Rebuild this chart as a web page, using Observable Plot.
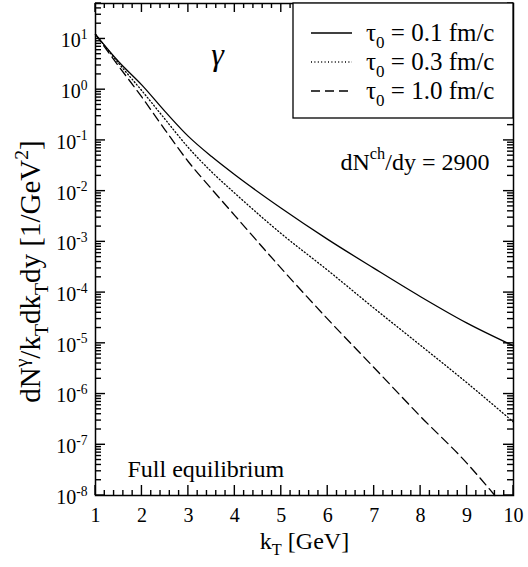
<!DOCTYPE html>
<html><head><meta charset="utf-8">
<script src="https://cdn.jsdelivr.net/npm/d3@7"></script>
<script src="https://cdn.jsdelivr.net/npm/@observablehq/plot@0.6"></script>
<style>
body{margin:0;background:#fff}
#chart{position:relative;width:528px;height:567px}
#chart svg text{font-family:"Liberation Serif",serif !important}
</style></head><body><div id="chart"></div>
<script>
// ---- data ----
const kT    = [1, 1.5, 2, 2.5, 3, 3.5, 4, 5, 6, 7, 8, 9, 10];
const tau01 = [12.3, 3.55, 1.23, 0.37, 0.12, 0.048, 0.021, 0.0046, 0.00112, 3.0e-4, 8.3e-5, 2.5e-5, 8.9e-6];
const tau03 = [12.3, 3.3, 0.95, 0.26, 0.072, 0.024, 0.0091, 0.00145, 2.75e-4, 4.9e-5, 9.1e-6, 1.66e-6, 2.8e-7];
const kT10  = [1, 1.5, 2, 2.5, 3, 3.5, 4, 5, 6, 7, 8, 9, 9.6];
const tau10 = [12.3, 2.9, 0.71, 0.16, 0.038, 0.011, 0.0033, 3.0e-4, 3.0e-5, 3.3e-6, 3.6e-7, 4.3e-8, 1.0e-8];
const seriesNames = ["τ_{0} = 0.1 fm/c", "τ_{0} = 0.3 fm/c", "τ_{0} = 1.0 fm/c"];
const seriesX = [kT, kT, kT10];
const seriesValues = [tau01, tau03, tau10];
const xTicks = [1, 2, 3, 4, 5, 6, 7, 8, 9, 10];
const xTickLabels = ["1", "2", "3", "4", "5", "6", "7", "8", "9", "10"];
const yTicks = [1e-8, 1e-7, 1e-6, 1e-5, 1e-4, 1e-3, 1e-2, 1e-1, 1e0, 1e1];
const yTickLabels = ["10^{-8}", "10^{-7}", "10^{-6}", "10^{-5}", "10^{-4}", "10^{-3}", "10^{-2}", "10^{-1}", "10^{0}", "10^{1}"];
const xDomain = [1, 10];
const yDomain = [1e-8, 50];
const xLabel = "k_{T} [GeV]";
const yLabel = "dN^{γ}/k_{T}dk_{T}dy [1/GeV^{2}]";
const gammaLabel = "γ";
const multLabel = "dN^{ch}/dy = 2900";
const eqLabel = "Full equilibrium";

// ---- styles ----
const FONT = "Liberation Serif";
const dashes = [null, "1,2.4", "9,5"];
const W = 528, H = 567;
const M = {top: 3, right: 15, bottom: 72, left: 95};
const ink = "black";

// minor ticks (axis decoration)
const xMinor = d3.range(xDomain[0], xDomain[1] + 1e-9, 0.2).filter(v => Math.abs(v - Math.round(v)) > 1e-6);
const yMinor = [];
for (let e = -8; e <= 1; e++) for (let m = 2; m <= 9; m++) { const v = m * Math.pow(10, e); if (v <= yDomain[1]) yMinor.push(v); }

const rows = seriesValues.map((vals, s) => seriesX[s].map((k, i) => ({k, v: vals[i], s})));

const marks = [];
rows.forEach((r, s) => {
  marks.push(Plot.line(r, {x: "k", y: "v", stroke: ink, strokeWidth: 1.3,
    strokeDasharray: dashes[s], curve: "monotone-x"}));
});
marks.push(
  Plot.frame({stroke: ink, strokeWidth: 1.5}),
  // tick labels
  Plot.axisX({anchor: "bottom", ticks: xTicks, tickSize: 0, tickPadding: 12, fontSize: 20, fontFamily: FONT,
    tickFormat: d => xTickLabels[xTicks.indexOf(d)], label: null}),
  Plot.axisY({anchor: "left", ticks: yTicks, tickSize: 0, tickPadding: 8, fontSize: 20, fontFamily: FONT, dy: 2,
    tickFormat: d => yTickLabels[yTicks.indexOf(d)], label: null}),
  // labels & annotations
  Plot.text([xLabel], {frameAnchor: "bottom", dy: 53, text: d => d, fontSize: 24, fontFamily: FONT, textAnchor: "middle"}),
  Plot.text([yLabel], {frameAnchor: "left", rotate: -90, dx: -65, dy: 22, text: d => d, fontSize: 29, fontFamily: FONT, textAnchor: "middle"}),
  Plot.text([gammaLabel], {frameAnchor: "top-left", dx: 122, dy: 39, text: d => d, fontSize: 32, fontFamily: FONT, fontStyle: "italic", textAnchor: "middle"}),
  Plot.text([multLabel], {frameAnchor: "top-left", dx: 245, dy: 149, text: d => d, fontSize: 24, fontFamily: FONT, textAnchor: "start"}),
  Plot.text([eqLabel], {frameAnchor: "top-left", dx: 32, dy: 456, text: d => d, fontSize: 24, fontFamily: FONT, textAnchor: "start"})
);

const svg = Plot.plot({
  width: W, height: H,
  marginTop: M.top, marginRight: M.right, marginBottom: M.bottom, marginLeft: M.left,
  x: {domain: xDomain, type: "linear"},
  y: {domain: yDomain, type: "log"},
  marks
});
document.getElementById("chart").appendChild(svg);

// inward ticks on all four sides, placed through Plot's own scales
const sx = svg.scale("x"), sy = svg.scale("y");
const x0 = M.left, x1 = W - M.right, y0 = M.top, y1 = H - M.bottom;
const tg = d3.select(svg).append("g");
function seg(a, b, c, d) {
  tg.append("line").attr("x1", a).attr("y1", b).attr("x2", c).attr("y2", d)
    .attr("stroke", ink).attr("stroke-width", 1.4);
}
xTicks.forEach(v => { const p = sx.apply(v); seg(p, y1, p, y1 - 10); seg(p, y0, p, y0 + 9); });
xMinor.forEach(v => { const p = sx.apply(v); seg(p, y1, p, y1 - 5); seg(p, y0, p, y0 + 5); });
yTicks.forEach(v => { const p = sy.apply(v); seg(x0, p, x0 + 10, p); seg(x1, p, x1 - 10, p); });
yMinor.forEach(v => { const p = sy.apply(v); seg(x0, p, x0 + 6, p); seg(x1, p, x1 - 6, p); });

// legend
const lg = d3.select(svg).append("g").attr("font-size", 25).attr("text-anchor", "start").attr("font-family", FONT);
lg.append("rect").attr("x", 293).attr("y", M.top).attr("width", W - M.right - 293).attr("height", 115)
  .attr("fill", "white").attr("stroke", ink).attr("stroke-width", 1.3);
seriesNames.forEach((name, i) => {
  const y = 33 + i * 29;
  lg.append("line").attr("x1", 311).attr("x2", 352).attr("y1", y).attr("y2", y)
    .attr("stroke", ink).attr("stroke-width", 1.3).attr("stroke-dasharray", dashes[i]);
  lg.append("text").attr("x", 366).attr("y", y + 8).attr("fill", ink).text(name);
});

// rich text: ^{..} superscript, _{..} subscript
function richify(el) {
  const s = el.textContent;
  if (!/[_^]\{/.test(s)) return;
  const fs = parseFloat(getComputedStyle(el).fontSize);
  const parts = [];
  let buf = "", i = 0;
  while (i < s.length) {
    const c = s[i];
    if ((c === "^" || c === "_") && s[i + 1] === "{") {
      if (buf) { parts.push({t: buf, k: 0}); buf = ""; }
      const j = s.indexOf("}", i);
      parts.push({t: s.slice(i + 2, j), k: c === "^" ? 1 : -1});
      i = j + 1;
    } else { buf += c; i++; }
  }
  if (buf) parts.push({t: buf, k: 0});
  while (el.firstChild) el.removeChild(el.firstChild);
  let shift = 0;
  for (const p of parts) {
    const ts = document.createElementNS("http://www.w3.org/2000/svg", "tspan");
    const target = p.k === 1 ? -0.42 * fs : p.k === -1 ? 0.28 * fs : 0;
    ts.setAttribute("dy", target - shift);
    shift = target;
    if (p.k) ts.setAttribute("font-size", 0.68 * fs);
    ts.textContent = p.t;
    el.appendChild(ts);
  }
}
svg.querySelectorAll("text").forEach(richify);
</script></body></html>
